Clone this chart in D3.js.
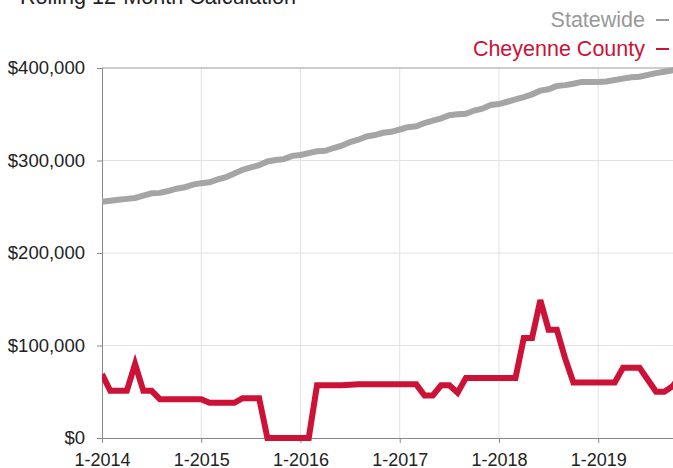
<!DOCTYPE html>
<html>
<head>
<meta charset="utf-8">
<script src="https://cdn.jsdelivr.net/npm/d3@7"></script>
<style>
  html, body { margin: 0; padding: 0; background: #fff; }
  svg { display: block; font-family: "Helvetica Neue", Helvetica, Arial, "Liberation Sans", sans-serif; }
</style>
</head>
<body>
<svg id="chart" width="673" height="468"></svg>
<script>
// ---- Data (monthly, starting January 2014) ----
const startYear = 2014;
const statewide = [
  255500, 256500, 257500, 258500, 259500, 262000, 264500, 265000, 267000, 269500, 271000, 274000,
  275500, 276500, 279500, 282000, 286000, 290000, 292500, 295000, 299000, 300500, 301500, 305000,
  306000, 308000, 310000, 310500, 313500, 316000, 320000, 322500, 326000, 327500, 330000, 331000,
  333500, 336000, 337000, 340500, 343000, 345500, 349000, 350000, 350500, 354000, 356000, 360000,
  361000, 363500, 366000, 368500, 371500, 375500, 377000, 380500, 381500, 383000, 385000, 385000,
  385000, 385500, 387000, 388500, 390000, 390500, 392500, 394500, 396000, 397500, 400000
];
const cheyenne = [
  69000, 51000, 51000, 51000, 80000, 51000, 51000, 42000, 42000, 42000, 42000, 42000,
  42000, 38000, 38000, 38000, 38000, 43000, 43000, 43000, 0, 0, 0, 0,
  0, 0, 57000, 57000, 57000, 57000, 57500, 58000, 58000, 58000, 58000, 58000,
  58000, 58000, 58000, 46000, 46000, 57000, 57000, 49000, 65000, 65000, 65000, 65000,
  65000, 65000, 65000, 108000, 108000, 149000, 117000, 117000, 86000, 60000, 60000, 60000,
  60000, 60000, 60000, 76000, 76000, 76000, 63000, 50000, 50000, 56000, 68000
];
const seriesNames = ["Statewide", "Cheyenne County"];
const xTickMonths = [0, 12, 24, 36, 48, 60];
const xTickLabels = ["1-2014", "1-2015", "1-2016", "1-2017", "1-2018", "1-2019"];
const yTickValues = [0, 100000, 200000, 300000, 400000];
const titleText = "Rolling 12-Month Calculation";

// ---- Layout ----
const W = 673, H = 468;
const mLeft = 102, mTop = 68, mBottom = 438;
const monthPx = 8.27;
const svg = d3.select("#chart");
const FONT = "'Helvetica Neue', Helvetica, Arial, 'Liberation Sans', sans-serif";

const x = d3.scaleLinear().domain([0, 70]).range([mLeft, mLeft + 70 * monthPx]);
const y = d3.scaleLinear().domain([0, 400000]).range([mBottom, mTop]);

const fmt = v => "$" + d3.format(",")(v);

svg.append("defs").append("clipPath").attr("id", "plotclip")
  .append("rect").attr("x", mLeft).attr("y", 0).attr("width", W - mLeft).attr("height", mBottom + 5);

// grid lines
const grid = svg.append("g");
grid.selectAll("line.h").data(yTickValues.filter(v => v > 0 && v < 400000)).enter()
  .append("line").attr("class", "h")
  .attr("x1", mLeft).attr("x2", W).attr("y1", d => y(d)).attr("y2", d => y(d))
  .attr("stroke", "#e2e2e2").attr("stroke-width", 1);
grid.selectAll("line.v").data(xTickMonths.filter(m => m > 0)).enter()
  .append("line").attr("class", "v")
  .attr("x1", d => x(d)).attr("x2", d => x(d)).attr("y1", mTop).attr("y2", mBottom)
  .attr("stroke", "#e2e2e2").attr("stroke-width", 1);

// top border
svg.append("line").attr("x1", mLeft).attr("x2", W).attr("y1", y(400000)).attr("y2", y(400000))
  .attr("stroke", "#9a9a9a").attr("stroke-width", 1);

// y axis
const yAxis = d3.axisLeft(y).tickValues(yTickValues).tickSize(5).tickPadding(12).tickFormat(fmt);
const gy = svg.append("g").attr("transform", `translate(${mLeft},0)`).call(yAxis);
gy.select(".domain").attr("stroke", "#888");
gy.selectAll(".tick line").attr("stroke", "#888");
gy.selectAll(".tick text").attr("font-size", 18.5).attr("fill", "#222").attr("font-family", FONT);

// x axis
const xAxis = d3.axisBottom(x).tickValues(xTickMonths).tickSize(5).tickPadding(10)
  .tickFormat((d, i) => xTickLabels[i]);
const gx = svg.append("g").attr("transform", `translate(0,${mBottom})`).call(xAxis);
gx.select(".domain").attr("stroke", "#888");
gx.selectAll(".tick line").attr("stroke", "#888");
gx.selectAll(".tick text").attr("font-size", 18).attr("fill", "#222").attr("font-family", FONT);

// lines
const line = d3.line().x((d, i) => x(i)).y(d => y(d));
const plot = svg.append("g").attr("clip-path", "url(#plotclip)");
plot.append("path").datum(statewide).attr("d", line)
  .attr("fill", "none").attr("stroke", "#a5a5a5").attr("stroke-width", 6);
plot.append("path").datum(cheyenne).attr("d", line)
  .attr("fill", "none").attr("stroke", "#cc1236").attr("stroke-width", 6);

// title
svg.append("text").attr("x", 20).attr("y", 4).attr("font-size", 21.6).attr("fill", "#222")
  .text(titleText);

// legend
const legendColors = ["#999999", "#cc1236"];
const legendY = [27, 56];
seriesNames.forEach((name, i) => {
  svg.append("text").attr("x", 645).attr("y", legendY[i]).attr("text-anchor", "end")
    .attr("font-size", 21.5).attr("fill", legendColors[i]).text(name);
  svg.append("line").attr("x1", 656).attr("x2", 669)
    .attr("y1", legendY[i] - 7).attr("y2", legendY[i] - 7)
    .attr("stroke", legendColors[i]).attr("stroke-width", 2);
});
</script>
</body>
</html>
